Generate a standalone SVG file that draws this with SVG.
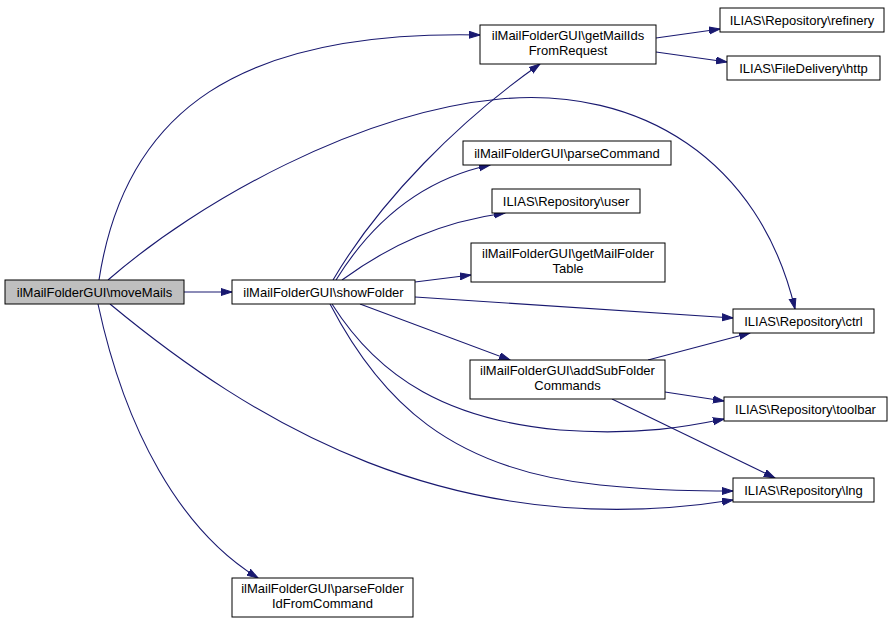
<svg xmlns="http://www.w3.org/2000/svg" width="895" height="625" viewBox="0 0 895 625">
<defs>
<style>
.n rect{fill:#ffffff;stroke:#000000;stroke-width:1}
.n.root rect{fill:#bfbfbf}
.n text{font-family:"Liberation Sans",Arial,sans-serif;font-size:13px;fill:#000000;text-anchor:middle}
.e path{fill:none;stroke:#191970;stroke-width:1.1;marker-end:url(#ah)}
</style>
<marker id="ah" markerUnits="userSpaceOnUse" markerWidth="12" markerHeight="9" refX="11" refY="4" orient="auto" viewBox="0 0 12 9">
<path d="M0,0.5 L11,4 L0,7.5 z" fill="#191970" stroke="#191970"/>
</marker>
</defs>
<rect width="895" height="625" fill="#ffffff"/>
<g id="edges" class="e">
<path d="M184,292 L232,292"/>
<path d="M99,280 C125,110 240,30 480,35"/>
<path d="M108,280 C200,200 360,112 500,99 C640,86 760,160 795,309"/>
<path d="M110,304 C250,420 450,545 733,500"/>
<path d="M98,304 C125,430 180,530 258,578"/>
<path d="M333,280 C380,200 460,120 540,64"/>
<path d="M336,280 C370,225 420,180 490,165"/>
<path d="M342,280 C390,245 440,222 505,213"/>
<path d="M415,282 L471,275"/>
<path d="M415,297 L733,318"/>
<path d="M360,304 L510,360"/>
<path d="M332,304 C380,380 450,420 560,430 C640,436 690,426 724,419"/>
<path d="M330,304 C380,400 450,470 600,485 C660,491 700,491 733,491"/>
<path d="M656,38 L720,29"/>
<path d="M656,52 L727,62"/>
<path d="M648,360 L750,333"/>
<path d="M665,392 L724,401"/>
<path d="M612,399 L775,478"/>
</g>
<g id="moveMails" class="n root"><rect x="5" y="280" width="179" height="24"/><text x="94.5" y="297">ilMailFolderGUI\moveMails</text></g>
<g id="showFolder" class="n"><rect x="232" y="280" width="183" height="24"/><text x="323.5" y="297">ilMailFolderGUI\showFolder</text></g>
<g id="getMailIdsFromRequest" class="n"><rect x="480" y="25" width="176" height="39"/><text x="568" y="40">ilMailFolderGUI\getMailIds</text><text x="568" y="55">FromRequest</text></g>
<g id="refinery" class="n"><rect x="720" y="8" width="164" height="24"/><text x="802" y="25">ILIAS\Repository\refinery</text></g>
<g id="http" class="n"><rect x="727" y="56" width="153" height="24"/><text x="803.5" y="73">ILIAS\FileDelivery\http</text></g>
<g id="parseCommand" class="n"><rect x="463" y="141" width="208" height="24"/><text x="567" y="158">ilMailFolderGUI\parseCommand</text></g>
<g id="user" class="n"><rect x="492" y="189" width="148" height="24"/><text x="566" y="206">ILIAS\Repository\user</text></g>
<g id="getMailFolderTable" class="n"><rect x="471" y="243" width="194" height="39"/><text x="568" y="258">ilMailFolderGUI\getMailFolder</text><text x="568" y="273">Table</text></g>
<g id="ctrl" class="n"><rect x="733" y="309" width="141" height="24"/><text x="803.5" y="326">ILIAS\Repository\ctrl</text></g>
<g id="addSubFolderCommands" class="n"><rect x="470" y="360" width="195" height="39"/><text x="567.5" y="375">ilMailFolderGUI\addSubFolder</text><text x="567.5" y="390">Commands</text></g>
<g id="toolbar" class="n"><rect x="724" y="397" width="163" height="24"/><text x="805.5" y="414">ILIAS\Repository\toolbar</text></g>
<g id="lng" class="n"><rect x="733" y="478" width="141" height="24"/><text x="803.5" y="495">ILIAS\Repository\lng</text></g>
<g id="parseFolderIdFromCommand" class="n"><rect x="232" y="578" width="181" height="39"/><text x="322.5" y="593">ilMailFolderGUI\parseFolder</text><text x="322.5" y="608">IdFromCommand</text></g>
</svg>
